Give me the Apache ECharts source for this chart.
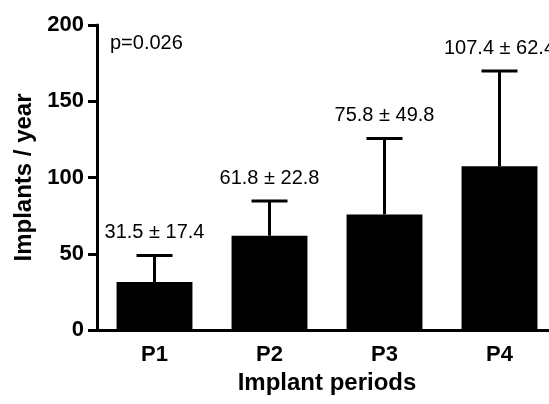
<!DOCTYPE html>
<html>
<head>
<meta charset="utf-8">
<script src="https://cdn.jsdelivr.net/npm/echarts@6/dist/echarts.min.js"></script>
<style>
  html, body { margin: 0; padding: 0; background: #fff; }
  #chart { width: 549px; height: 404px; }
</style>
</head>
<body>
<div id="chart"></div>
<script>
// implant periods, mean and SD per period
const periods = ['P1', 'P2', 'P3', 'P4']
const means = [31.5, 61.8, 75.8, 107.4]
const sds = [17.4, 22.8, 49.8, 62.4]
const pText = 'p=0.026'

const font = 'Liberation Sans, Arial, sans-serif'
const chart = echarts.init(document.getElementById('chart'))

chart.setOption({
  animation: false,
  // plot runs past the right edge in the original, so no clamping
  grid: { left: 97, top: 25, bottom: 74, width: 460, outerBoundsMode: 'none', containLabel: false },
  xAxis: {
    type: 'category',
    data: periods,
    name: 'Implant periods',
    nameLocation: 'middle',
    nameGap: 28,
    nameTextStyle: { fontFamily: font, fontSize: 24, fontWeight: 'bold', color: '#000', verticalAlign: 'top' },
    axisLine: { lineStyle: { color: '#000', width: 3 } },
    axisTick: { alignWithLabel: true, length: 8, lineStyle: { width: 3, color: '#000' } },
    axisLabel: { fontFamily: font, fontSize: 22, fontWeight: 'bold', color: '#000', margin: 14 }
  },
  yAxis: {
    type: 'value',
    min: 0,
    max: 200,
    interval: 50,
    name: 'Implants / year',
    nameLocation: 'middle',
    nameGap: 60,
    nameTextStyle: { fontFamily: font, fontSize: 24, fontWeight: 'bold', color: '#000' },
    axisLine: { show: true, lineStyle: { color: '#000', width: 3 } },
    axisTick: { show: true, length: 9, lineStyle: { width: 3, color: '#000' } },
    axisLabel: { fontFamily: font, fontSize: 22, fontWeight: 'bold', color: '#000', margin: 13 },
    splitLine: { show: false }
  },
  graphic: [{
    type: 'text',
    left: 110,
    top: 33,
    style: { text: pText, fontFamily: font, fontSize: 20, fill: '#000' }
  }],
  series: [
    {
      type: 'bar',
      data: means,
      barCategoryGap: '34%',
      itemStyle: { color: '#000' }
    },
    {
      // error bars (mean + SD) with label on top
      type: 'custom',
      data: means.map((m, i) => [i, m, m + sds[i]]),
      renderItem: function (params, api) {
        const base = api.coord([api.value(0), api.value(1)])
        const top = api.coord([api.value(0), api.value(2)])
        const i = params.dataIndex
        const half = 18
        const ls = { stroke: '#000', lineWidth: 3 }
        return {
          type: 'group',
          children: [
            { type: 'line', shape: { x1: base[0], y1: base[1], x2: top[0], y2: top[1] }, style: ls },
            { type: 'line', shape: { x1: top[0] - half, y1: top[1], x2: top[0] + half, y2: top[1] }, style: ls },
            {
              type: 'text',
              x: top[0],
              y: top[1] - 13,
              style: {
                text: means[i] + ' ± ' + sds[i],
                fontFamily: font,
                fontSize: 20,
                fill: '#000',
                align: 'center',
                verticalAlign: 'bottom'
              }
            }
          ]
        }
      },
      z: 3
    }
  ]
})
</script>
</body>
</html>
